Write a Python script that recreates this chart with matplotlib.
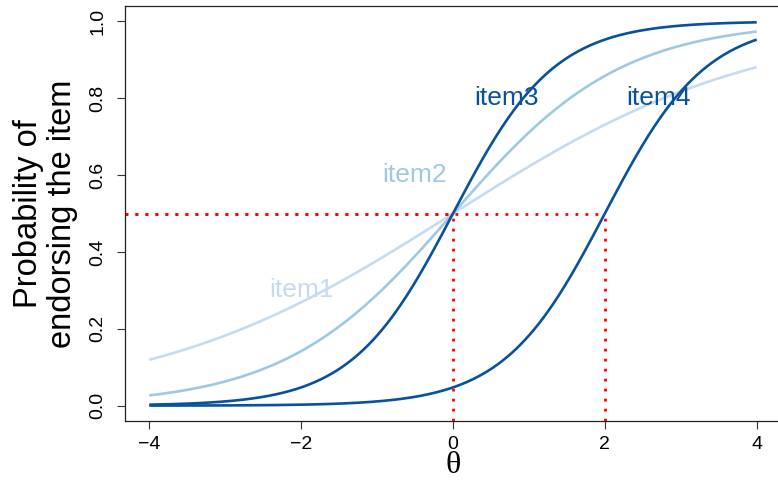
import numpy as np
import matplotlib

matplotlib.use("Agg")
import matplotlib.pyplot as plt

plt.rcParams["font.family"] = ["Liberation Sans", "DejaVu Sans"]

# 2PL item parameters
items = ["item1", "item2", "item3", "item4"]
discrimination = [0.5, 0.9, 1.5, 1.5]
difficulty = [0.0, 0.0, 0.0, 2.0]
colors = ["#c6dbef", "#9ecae1", "#08519c", "#08519c"]

# where each item name sits on the plot
label_theta = [-2.0, -0.5, 0.7, 2.7]
label_prob = [0.3, 0.6, 0.8, 0.8]

# reference lines at P = .5 for the two difficulty levels
ref_theta = [0.0, 2.0]
ref_prob = 0.5

theta = np.linspace(-4, 4, 400)

fig = plt.figure(figsize=(7.78, 4.82), dpi=100)
ax = fig.add_axes([125 / 778, 61 / 482, 656 / 778, 415 / 482])

for name, a, b, col in zip(items, discrimination, difficulty, colors):
    p = 1.0 / (1.0 + np.exp(-a * (theta - b)))
    ax.plot(theta, p, color=col, lw=1.9, solid_capstyle="butt")

for name, x, y, col in zip(items, label_theta, label_prob, colors):
    ax.text(x, y, name, color=col, fontsize=19, ha="center", va="center")

xmin, xmax = -4.32, 4.32
ymin, ymax = -0.04, 1.04
dots = dict(color="red", lw=2, linestyle=(0, (1, 2.6)), dash_capstyle="butt")
for t in ref_theta:
    ax.plot([xmin, t], [ref_prob, ref_prob], **dots)
    ax.plot([t, t], [ymin, ref_prob], **dots)

ax.set_xlim(xmin, xmax)
ax.set_ylim(ymin, ymax)
ax.set_xticks([-4, -2, 0, 2, 4])
ax.set_xticklabels(["\u22124", "\u22122", "0", "2", "4"])
ax.set_yticks([0.0, 0.2, 0.4, 0.6, 0.8, 1.0])
ax.set_yticklabels(["0.0", "0.2", "0.4", "0.6", "0.8", "1.0"], rotation=90,
                   va="center")
ax.tick_params(axis="both", labelsize=14, length=5.5, width=0.8,
               color="#333333")
ax.tick_params(axis="x", pad=5)
ax.tick_params(axis="y", pad=8)
for s in ax.spines.values():
    s.set_linewidth(0.9)
    s.set_color("#222222")

ax.set_xlabel("\u03b8", fontsize=23, family=["Liberation Serif", "DejaVu Serif"],
              labelpad=-1)
ax.set_ylabel("Probability of\nendorsing the item", fontsize=23.5,
              linespacing=1.15, labelpad=8)

fig.savefig("out.png", dpi=100)
